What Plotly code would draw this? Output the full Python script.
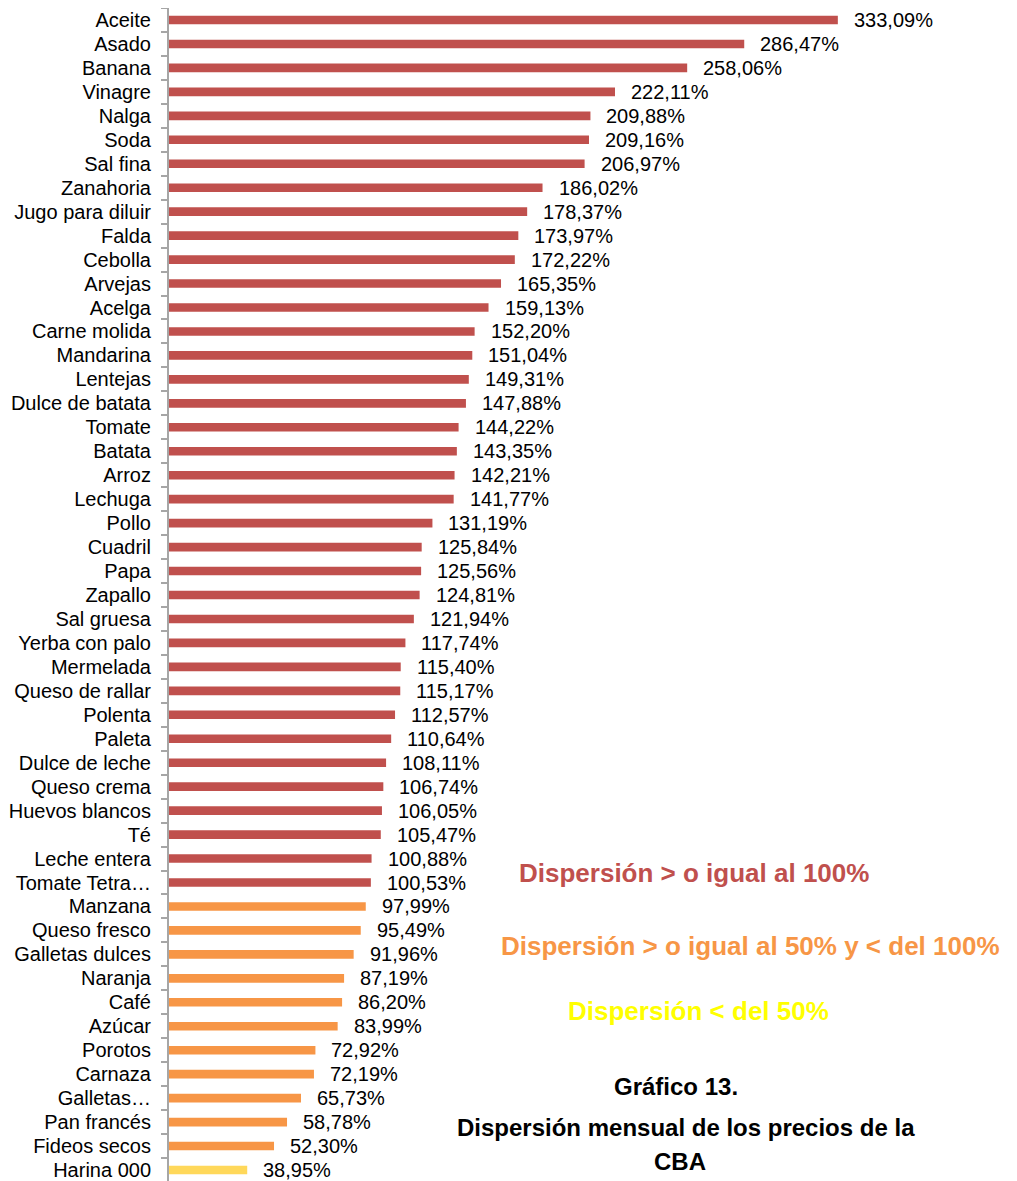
import plotly.graph_objects as go

categories = [
    "Aceite", "Asado", "Banana", "Vinagre", "Nalga", "Soda", "Sal fina", "Zanahoria",
    "Jugo para diluir", "Falda", "Cebolla", "Arvejas", "Acelga", "Carne molida",
    "Mandarina", "Lentejas", "Dulce de batata", "Tomate", "Batata", "Arroz", "Lechuga",
    "Pollo", "Cuadril", "Papa", "Zapallo", "Sal gruesa", "Yerba con palo", "Mermelada",
    "Queso de rallar", "Polenta", "Paleta", "Dulce de leche", "Queso crema",
    "Huevos blancos", "Té", "Leche entera", "Tomate Tetra…", "Manzana", "Queso fresco",
    "Galletas dulces", "Naranja", "Café", "Azúcar", "Porotos", "Carnaza", "Galletas…",
    "Pan francés", "Fideos secos", "Harina 000",
]
values = [
    333.09, 286.47, 258.06, 222.11, 209.88, 209.16, 206.97, 186.02,
    178.37, 173.97, 172.22, 165.35, 159.13, 152.20,
    151.04, 149.31, 147.88, 144.22, 143.35, 142.21, 141.77,
    131.19, 125.84, 125.56, 124.81, 121.94, 117.74, 115.40,
    115.17, 112.57, 110.64, 108.11, 106.74,
    106.05, 105.47, 100.88, 100.53, 97.99, 95.49,
    91.96, 87.19, 86.20, 83.99, 72.92, 72.19, 65.73,
    58.78, 52.30, 38.95,
]

RED = "#C0504D"
ORANGE = "#F79646"
YELLOW = "#FFD85A"

def color_for(v):
    if v >= 100:
        return RED
    if v >= 50:
        return ORANGE
    return YELLOW

labels = [f"{v:.2f}".replace(".", ",") + "%" for v in values]
colors = [color_for(v) for v in values]

# plot bottom-to-top
cats_r = categories[::-1]
vals_r = values[::-1]
cols_r = colors[::-1]
labs_r = labels[::-1]

FONT = "Liberation Sans, Arial, sans-serif"

fig = go.Figure()
fig.add_trace(go.Bar(
    x=vals_r, y=cats_r, orientation="h",
    marker=dict(color=cols_r, line=dict(width=0)),
    width=0.36,
    hoverinfo="skip",
))

annotations = []
for c, v, t in zip(cats_r, vals_r, labs_r):
    annotations.append(dict(
        x=v, y=c, xref="x", yref="y", text=t, showarrow=False,
        xanchor="left", yanchor="middle", xshift=14,
        font=dict(family=FONT, size=20, color="#000000"),
    ))

# page has an 8px body margin; figure is sized to fit the window
OFF = 8
W, H, L = 1017 - OFF, 1181 - OFF, 169 - OFF
def px(xp):
    return (xp - OFF - L) / (W - L)
def py(yp):
    return 1 - (yp - OFF) / H

notes = [
    ("<b>Dispersión > o igual al 100%</b>", 694, 873, RED, 26),
    ("<b>Dispersión > o igual al 50% y < del 100%</b>", 750, 946, ORANGE, 26),
    ("<b>Dispersión < del 50%</b>", 698, 1011, "#FFFF00", 26),
    ("<b>Gráfico 13.</b>", 676, 1086, "#000000", 24),
    ("<b>Dispersión mensual de los precios de la</b>", 686, 1127, "#000000", 24),
    ("<b>CBA</b>", 680, 1161, "#000000", 24),
]
for text, x, y, col, size in notes:
    annotations.append(dict(
        x=px(x), y=py(y), xref="paper", yref="paper", text=text, showarrow=False,
        xanchor="center", yanchor="middle",
        font=dict(family=FONT, size=size, color=col),
    ))

n = len(categories)
step = 23.96
top_center = 20 - OFF
bottom_center = 1170 - OFF
fig.update_layout(
    width=W, height=H,
    margin=dict(l=L, r=0, t=0, b=0),
    paper_bgcolor="white", plot_bgcolor="white",
    showlegend=False,
    annotations=annotations,
    xaxis=dict(range=[0, (W - L) / 2.008], visible=False),
    yaxis=dict(
        type="category", categoryorder="array", categoryarray=cats_r,
        range=[-(H - bottom_center) / step, n - 1 + top_center / step],
        tickmode="array", tickvals=cats_r, ticktext=cats_r,
        showline=True, linecolor="#A6A6A6", linewidth=2,
        ticks="outside", ticklen=6, tickcolor="#A6A6A6", tickwidth=2,
        tickson="boundaries", showgrid=False, zeroline=False,
        tickfont=dict(family=FONT, size=20, color="#000000"),
        ticklabelstandoff=12,
    ),
)

fig.write_html("out.html")
